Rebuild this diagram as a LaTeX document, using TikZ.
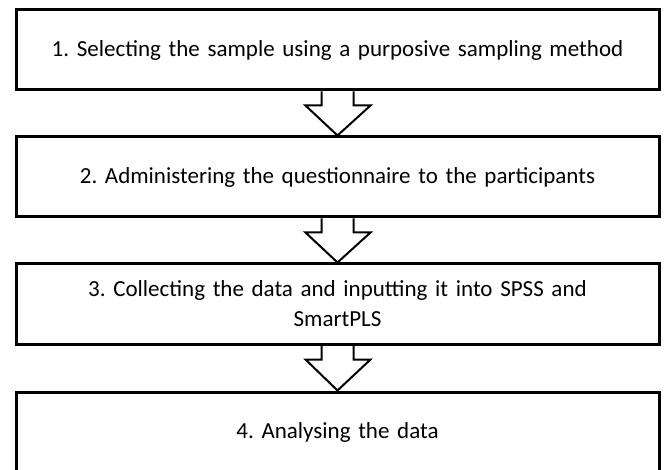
\documentclass[tikz,border=0pt]{standalone}
\usepackage{fontspec}
\setmainfont{Carlito}
\usetikzlibrary{calc,positioning}

% hollow block arrow from the bottom of one box to the top of the next
\newcommand{\flowarrow}[2]{%
  \draw[stagearrow] ($(#1.south)+(-16,0)$) -- ($(#1.south)+(-16,14)$)
    -- ($(#1.south)+(-32,14)$) -- (#2.north)
    -- ($(#1.south)+(33,14)$) -- ($(#1.south)+(16,14)$)
    -- ($(#1.south)+(16,0)$);}

\begin{document}
\frenchspacing
\begin{tikzpicture}[x=1pt, y=-1pt,
    stage/.style={draw=black, line width=3pt, fill=white, minimum width=643pt,
      minimum height=80pt, text width=630pt, align=center, inner sep=0pt,
      font=\fontsize{23}{30}\selectfont},
    stagearrow/.style={draw=black, line width=2pt, line join=miter}]
  \clip (0,0) rectangle (664,470);
  \fill[white] (0,0) rectangle (664,470);

  \node[stage] (s1) at (337.5,50) {1. Selecting the sample using a purposive sampling method};
  \node[stage] (s2) at (337.5,177) {2. Administering the questionnaire to the participants};
  \node[stage] (s3) at (337.5,304) {3. Collecting the data and inputting it into SPSS and\\ SmartPLS};
  \node[stage] (s4) at (337.5,432) {4. Analysing the data};

  \flowarrow{s1}{s2}
  \flowarrow{s2}{s3}
  \flowarrow{s3}{s4}
\end{tikzpicture}
\end{document}
